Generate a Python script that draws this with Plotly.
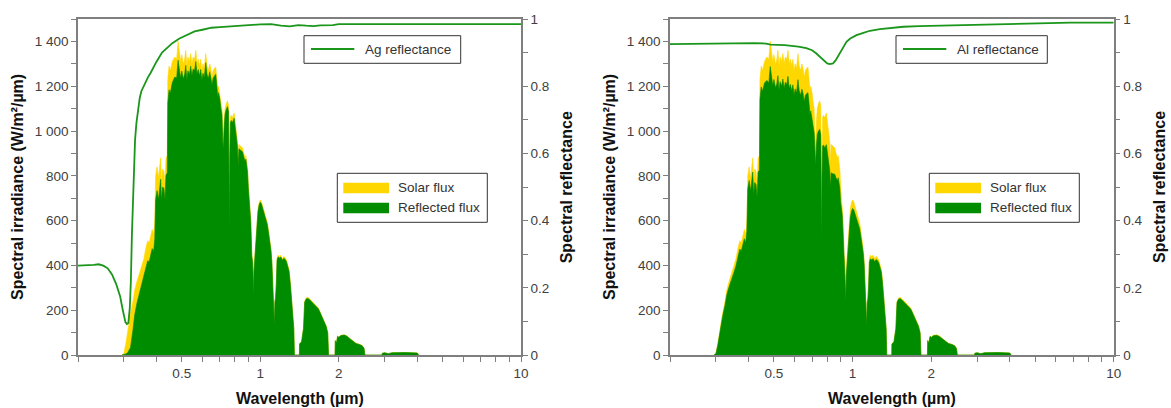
import plotly.graph_objects as go

# ---------------- data ----------------
wavelength_um = [
    0.295, 0.300, 0.305, 0.310, 0.318, 0.325, 0.330, 0.337, 0.345, 0.352,
    0.358, 0.363, 0.370, 0.375, 0.380, 0.385, 0.390, 0.394, 0.397, 0.402,
    0.407, 0.411, 0.415, 0.418, 0.422, 0.427, 0.431, 0.435, 0.440, 0.442,
    0.447, 0.452, 0.460, 0.470, 0.478, 0.484, 0.490, 0.495, 0.500, 0.507,
    0.513, 0.518, 0.523, 0.528, 0.535, 0.541, 0.547, 0.553, 0.560, 0.566,
    0.572, 0.578, 0.585, 0.591, 0.597, 0.603, 0.610, 0.618, 0.625, 0.632,
    0.640, 0.646, 0.653, 0.660, 0.668, 0.675, 0.682, 0.687, 0.692, 0.700,
    0.706, 0.713, 0.718, 0.722, 0.727, 0.733, 0.740, 0.749, 0.756, 0.759,
    0.761, 0.764, 0.768, 0.774, 0.782, 0.794, 0.805, 0.812, 0.818, 0.823,
    0.828, 0.835, 0.845, 0.855, 0.865, 0.875, 0.881, 0.888, 0.894, 0.900,
    0.907, 0.913, 0.920, 0.928, 0.935, 0.940, 0.943, 0.946, 0.952, 0.958,
    0.965, 0.972, 0.980, 0.990, 1.000, 1.010, 1.025, 1.040, 1.052, 1.065,
    1.080, 1.092, 1.100, 1.108, 1.115, 1.122, 1.128, 1.133, 1.138, 1.145,
    1.152, 1.160, 1.170, 1.185, 1.200, 1.215, 1.230, 1.245, 1.260, 1.275,
    1.290, 1.305, 1.320, 1.335, 1.345, 1.352, 1.413, 1.415, 1.440, 1.465,
    1.480, 1.500, 1.520, 1.550, 1.580, 1.610, 1.640, 1.670, 1.700, 1.730,
    1.760, 1.790, 1.815, 1.828, 1.935, 1.940, 1.960, 1.980, 2.000, 2.040,
    2.100, 2.150, 2.200, 2.265, 2.330, 2.400, 2.460, 2.500, 2.520, 2.930,
    2.940, 3.000, 3.100, 3.200, 3.400, 3.600, 3.800, 4.000, 4.050,
]

solar_flux = [
    0, 8, 50, 110, 185, 240, 290, 330, 365, 400,
    430, 470, 510, 500, 530, 560, 540, 600, 800, 840,
    790, 850, 880, 770, 830, 820, 760, 880, 890, 1230,
    1290, 1270, 1310, 1330, 1320, 1400, 1350, 1310, 1340, 1300,
    1320, 1360, 1290, 1330, 1310, 1345, 1300, 1330, 1320, 1360,
    1300, 1320, 1290, 1320, 1270, 1300, 1280, 1345, 1290, 1270,
    1300, 1280, 1240, 1270, 1280, 1285, 1230, 1180, 1200, 1170,
    1130, 1100, 980, 940, 1040, 1100, 1120, 1135, 1110, 700,
    560, 900, 1060, 1070, 1060, 1080, 1010, 960, 950, 860,
    940, 935, 930, 925, 900, 880, 890, 860, 830, 760,
    710, 690, 600, 450, 420, 330, 260, 380, 430, 470,
    560, 610, 650, 680, 692, 685, 660, 640, 620, 590,
    540, 500, 470, 420, 340, 250, 150, 135, 240, 260,
    320, 430, 445, 440, 445, 430, 440, 435, 425, 400,
    380, 320, 250, 200, 120, 0, 0, 50, 60, 120,
    240, 255, 258, 250, 240, 230, 220, 210, 190, 170,
    150, 130, 100, 0, 0, 65, 55, 85, 80, 88,
    90, 85, 75, 62, 52, 48, 42, 30, 0, 0,
    8, 10, 6, 10, 12, 11, 10, 9, 0,
]

ag_reflected_flux = [
    0, 1, 5, 10, 34, 113, 180, 234, 281, 318,
    346, 382, 421, 416, 445, 475, 463, 518, 694, 734,
    695, 753, 785, 691, 750, 744, 692, 803, 814, 1125,
    1184, 1170, 1216, 1241, 1237, 1316, 1272, 1237, 1268, 1232,
    1254, 1293, 1229, 1269, 1252, 1289, 1247, 1277, 1270, 1310,
    1253, 1274, 1245, 1275, 1228, 1258, 1240, 1305, 1253, 1234,
    1265, 1245, 1208, 1237, 1248, 1253, 1199, 1151, 1171, 1142,
    1103, 1074, 957, 918, 1016, 1075, 1095, 1109, 1085, 684,
    548, 880, 1037, 1047, 1038, 1057, 990, 941, 931, 843,
    921, 917, 912, 907, 884, 864, 874, 845, 815, 747,
    698, 678, 590, 442, 413, 325, 256, 374, 423, 462,
    551, 600, 640, 670, 682, 675, 650, 630, 611, 581,
    532, 493, 463, 414, 335, 246, 148, 133, 236, 256,
    315, 424, 438, 433, 437, 423, 432, 427, 417, 393,
    373, 314, 245, 196, 118, 0, 0, 49, 59, 118,
    236, 250, 253, 246, 236, 226, 216, 206, 187, 167,
    147, 128, 98, 0, 0, 64, 54, 84, 79, 87,
    89, 84, 74, 61, 51, 47, 41, 30, 0, 0,
    8, 10, 6, 10, 12, 11, 10, 9, 0,
]

al_reflected_flux = [
    0, 7, 46, 102, 172, 223, 269, 306, 338, 371,
    399, 436, 473, 464, 491, 519, 501, 556, 742, 779,
    733, 789, 817, 715, 770, 761, 705, 816, 826, 1141,
    1197, 1178, 1214, 1226, 1214, 1288, 1241, 1203, 1230, 1193,
    1210, 1247, 1183, 1220, 1200, 1232, 1191, 1218, 1208, 1244,
    1190, 1208, 1180, 1206, 1161, 1188, 1170, 1229, 1179, 1160,
    1187, 1169, 1132, 1160, 1167, 1171, 1119, 1073, 1090, 1061,
    1023, 992, 882, 845, 933, 985, 999, 1008, 982, 618,
    494, 793, 932, 938, 925, 939, 876, 831, 823, 745,
    814, 810, 807, 807, 790, 779, 791, 768, 745, 684,
    642, 627, 547, 413, 388, 306, 241, 353, 401, 439,
    525, 573, 612, 641, 654, 649, 627, 609, 591, 564,
    517, 480, 451, 403, 327, 240, 144, 130, 231, 250,
    308, 415, 429, 425, 430, 416, 426, 422, 412, 388,
    369, 311, 243, 194, 117, 0, 0, 49, 58, 117,
    234, 249, 252, 244, 234, 225, 215, 205, 186, 166,
    147, 127, 98, 0, 0, 64, 54, 83, 78, 86,
    88, 83, 74, 61, 51, 47, 41, 29, 0, 0,
    8, 10, 6, 10, 12, 11, 10, 9, 0,
]

ag_wavelength_um = [
    0.20, 0.21, 0.22, 0.23, 0.24, 0.25, 0.26, 0.27, 0.28, 0.29,
    0.297, 0.304, 0.308, 0.312, 0.316, 0.319, 0.322, 0.325, 0.328, 0.331,
    0.335, 0.34, 0.345, 0.35, 0.36, 0.37, 0.38, 0.39, 0.40, 0.42,
    0.44, 0.46, 0.49, 0.52, 0.56, 0.60, 0.65, 0.70, 0.78, 0.90,
    1.0, 1.1, 1.2, 1.3, 1.4, 1.5, 1.6, 1.7, 1.8, 1.9,
    2.0, 3.0, 5.0, 10.0,
]
ag_reflectance = [
    0.266, 0.266, 0.266, 0.268, 0.270, 0.266, 0.258, 0.240, 0.212, 0.175,
    0.134, 0.098, 0.092, 0.095, 0.140, 0.220, 0.360, 0.480, 0.580, 0.640,
    0.690, 0.730, 0.765, 0.785, 0.808, 0.825, 0.840, 0.857, 0.873, 0.900,
    0.915, 0.928, 0.942, 0.952, 0.963, 0.968, 0.974, 0.976, 0.979, 0.982,
    0.984, 0.985, 0.980, 0.978, 0.982, 0.980, 0.979, 0.981, 0.981, 0.982,
    0.985, 0.985, 0.985, 0.985,
]

al_wavelength_um = [
    0.20, 0.25, 0.29, 0.33, 0.37, 0.42, 0.467, 0.485, 0.55, 0.62,
    0.665, 0.70, 0.725, 0.75, 0.775, 0.80, 0.818, 0.83, 0.842, 0.86,
    0.88, 0.90, 0.92, 0.948, 0.98, 1.036, 1.10, 1.166, 1.273, 1.40,
    1.565, 1.80, 2.10, 3.0, 3.79, 5.0, 6.85, 10.0,
]
al_reflectance = [
    0.925, 0.926, 0.928, 0.928, 0.928, 0.928, 0.927, 0.924, 0.922, 0.918,
    0.913, 0.907, 0.898, 0.888, 0.876, 0.868, 0.866, 0.866, 0.868, 0.876,
    0.889, 0.901, 0.914, 0.932, 0.942, 0.952, 0.959, 0.965, 0.970, 0.973,
    0.977, 0.979, 0.980, 0.982, 0.984, 0.986, 0.989, 0.989,
]

x_tick_values = [0.2, 0.3, 0.4, 0.5, 0.6, 0.7, 0.8, 0.9, 1, 2, 3, 4, 5, 6, 7, 8, 9, 10]
x_tick_labels = ["", "", "", "0.5", "", "", "", "", "1", "2", "", "", "", "", "", "", "", "10"]
irradiance_ticks = [0, 200, 400, 600, 800, 1000, 1200, 1400]
reflectance_ticks = [0, 0.2, 0.4, 0.6, 0.8, 1]

metal_names = ["Ag reflectance", "Al reflectance"]
flux_names = ["Solar flux", "Reflected flux"]

# ---------------- styling ----------------
W, H = 1171, 408
YELLOW = "#FFD700"
GREEN_FILL = "#008C00"
GREEN_LINE = "#1A961A"
AXIS_GRAY = "#7F7F7F"
TICK_FONT = dict(family="Liberation Sans, Arial, sans-serif", size=13.5, color="#404040")
TITLE_FONT = dict(family="Liberation Sans, Arial, sans-serif", size=16, color="#111111")
LEG_FONT = dict(family="Liberation Sans, Arial, sans-serif", size=13.5, color="#333333")

def px_x(p):
    return p / W

def px_y(p):
    return 1 - p / H

plot_left = [78, 670]
plot_right = [521, 1113.7]
plot_top, plot_bottom = 19, 355

fig = go.Figure()

axis_ids = [("x", "y", "y2"), ("x2", "y3", "y4")]
reflected = [ag_reflected_flux, al_reflected_flux]
refl_x = [ag_wavelength_um, al_wavelength_um]
refl_y = [ag_reflectance, al_reflectance]

for i in range(2):
    xa, ya, yb = axis_ids[i]
    fig.add_trace(go.Scatter(
        x=wavelength_um, y=solar_flux, xaxis=xa, yaxis=ya,
        mode="lines", fill="tozeroy", fillcolor=YELLOW,
        line=dict(color=YELLOW, width=0.6), name=flux_names[0], showlegend=False))
    fig.add_trace(go.Scatter(
        x=wavelength_um, y=reflected[i], xaxis=xa, yaxis=ya,
        mode="lines", fill="tozeroy", fillcolor=GREEN_FILL,
        line=dict(color=GREEN_FILL, width=0.6), name=flux_names[1], showlegend=False))
    fig.add_trace(go.Scatter(
        x=refl_x[i], y=refl_y[i], xaxis=xa, yaxis=yb,
        mode="lines", line=dict(color=GREEN_LINE, width=1.8),
        name=metal_names[i], showlegend=False))

ydom = [px_y(plot_bottom), px_y(plot_top)]

def xaxis_cfg(i):
    return dict(
        type="log", range=[-0.69897, 1.0],
        domain=[px_x(plot_left[i]), px_x(plot_right[i])],
        tickmode="array", tickvals=x_tick_values, ticktext=x_tick_labels,
        ticks="outside", ticklen=5, tickwidth=1, tickcolor=AXIS_GRAY,
        showline=True, linecolor=AXIS_GRAY, linewidth=1.5, mirror=True,
        showgrid=False, zeroline=False, tickfont=TICK_FONT, automargin=False,
        anchor="y" if i == 0 else "y3",
    )

def yleft_cfg(i):
    return dict(
        range=[0, 1500], domain=ydom,
        tickmode="array", tickvals=irradiance_ticks,
        ticks="outside", ticklen=5, tickwidth=1, tickcolor=AXIS_GRAY,
        minor=dict(dtick=100, ticks="outside", ticklen=5, tickwidth=1, tickcolor=AXIS_GRAY),
        separatethousands=True,
        showline=True, linecolor=AXIS_GRAY, linewidth=1.5,
        showgrid=False, zeroline=False, tickfont=TICK_FONT, automargin=False,
        anchor="x" if i == 0 else "x2",
    )

def yright_cfg(i):
    return dict(
        range=[0, 1], side="right",
        overlaying="y" if i == 0 else "y3",
        anchor="x" if i == 0 else "x2",
        tickmode="array", tickvals=reflectance_ticks,
        ticks="outside", ticklen=5, tickwidth=1, tickcolor=AXIS_GRAY,
        minor=dict(dtick=0.1, ticks="outside", ticklen=5, tickwidth=1, tickcolor=AXIS_GRAY),
        showline=True, linecolor=AXIS_GRAY, linewidth=1.5,
        showgrid=False, zeroline=False, tickfont=TICK_FONT, automargin=False,
    )

shapes = []
annotations = []

# axis titles
for i in range(2):
    cx = (plot_left[i] + plot_right[i]) / 2
    annotations.append(dict(text="<b>Wavelength (µm)</b>", x=px_x(cx), y=px_y(398),
                            xref="paper", yref="paper", showarrow=False,
                            xanchor="center", yanchor="middle", font=TITLE_FONT))
    annotations.append(dict(text="<b>Spectral irradiance (W/m²/µm)</b>",
                            x=px_x(plot_left[i] - 60), y=px_y(187), textangle=-90,
                            xref="paper", yref="paper", showarrow=False,
                            xanchor="center", yanchor="middle", font=TITLE_FONT))
    annotations.append(dict(text="<b>Spectral reflectance</b>",
                            x=px_x(plot_right[i] + 46.3), y=px_y(187), textangle=-90,
                            xref="paper", yref="paper", showarrow=False,
                            xanchor="center", yanchor="middle", font=TITLE_FONT))

# legends (drawn boxes)
metal_box_right = [382.7, 377.3]
for i in range(2):
    L = plot_left[i]
    # metal reflectance legend
    shapes.append(dict(type="rect", xref="paper", yref="paper",
                       x0=px_x(L + 226), x1=px_x(L + metal_box_right[i]),
                       y0=px_y(63.3), y1=px_y(35.7),
                       line=dict(color="#333333", width=1), fillcolor="white"))
    shapes.append(dict(type="line", xref="paper", yref="paper",
                       x0=px_x(L + 233), x1=px_x(L + 276.3), y0=px_y(49), y1=px_y(49),
                       line=dict(color=GREEN_LINE, width=2)))
    annotations.append(dict(text=metal_names[i], x=px_x(L + 285.3), y=px_y(49),
                            xref="paper", yref="paper", showarrow=False,
                            xanchor="left", yanchor="middle", font=LEG_FONT))
    # flux legend
    shapes.append(dict(type="rect", xref="paper", yref="paper",
                       x0=px_x(L + 259.3), x1=px_x(L + 409.3),
                       y0=px_y(222.3), y1=px_y(173.3),
                       line=dict(color="#333333", width=1), fillcolor="white"))
    shapes.append(dict(type="rect", xref="paper", yref="paper",
                       x0=px_x(L + 265.3), x1=px_x(L + 311), y0=px_y(193.3), y1=px_y(182.7),
                       line=dict(width=0), fillcolor=YELLOW))
    shapes.append(dict(type="rect", xref="paper", yref="paper",
                       x0=px_x(L + 265.3), x1=px_x(L + 311), y0=px_y(213.3), y1=px_y(202.7),
                       line=dict(width=0), fillcolor=GREEN_FILL))
    annotations.append(dict(text=flux_names[0], x=px_x(L + 317.7), y=px_y(187.5),
                            xref="paper", yref="paper", showarrow=False,
                            xanchor="left", yanchor="middle", font=LEG_FONT))
    annotations.append(dict(text=flux_names[1], x=px_x(L + 317.7), y=px_y(207.7),
                            xref="paper", yref="paper", showarrow=False,
                            xanchor="left", yanchor="middle", font=LEG_FONT))

fig.update_layout(
    width=W, height=H, autosize=False,
    margin=dict(l=0, r=0, t=0, b=0, pad=0),
    paper_bgcolor="white", plot_bgcolor="white",
    separators=". ",
    showlegend=False,
    xaxis=xaxis_cfg(0), xaxis2=xaxis_cfg(1),
    yaxis=yleft_cfg(0), yaxis2=yright_cfg(0),
    yaxis3=yleft_cfg(1), yaxis4=yright_cfg(1),
    shapes=shapes, annotations=annotations,
)

fig.write_html("out.html")
